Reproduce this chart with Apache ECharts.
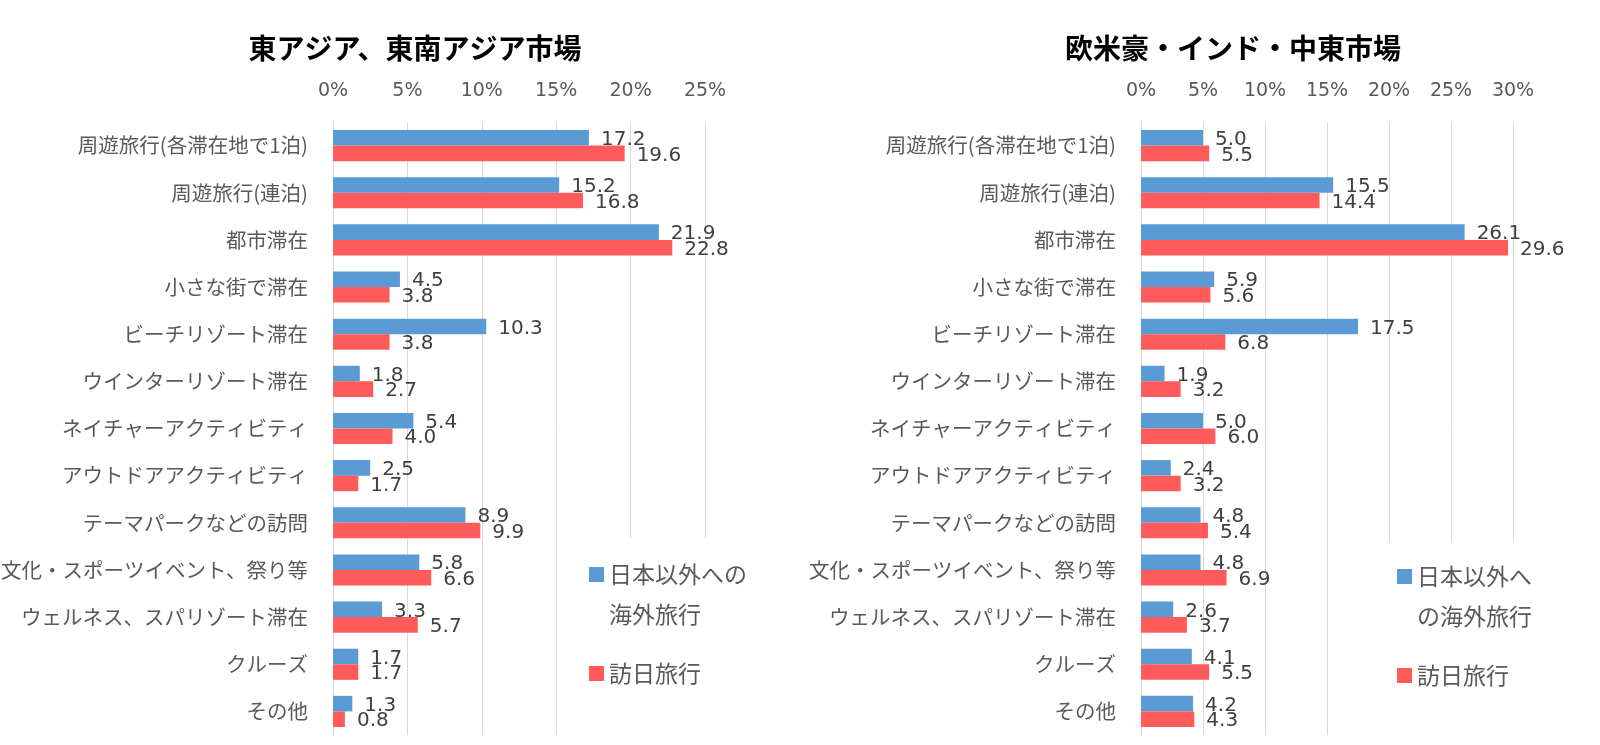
<!DOCTYPE html>
<html>
<head>
<meta charset="utf-8">
<script src="https://cdn.jsdelivr.net/npm/echarts@6/dist/echarts.min.js"></script>
<style>
html,body{margin:0;padding:0;background:#fff;}
#chart{width:1600px;height:745px;}
</style>
</head>
<body>
<div id="chart"></div>
<script>
const categories = ['周遊旅行(各滞在地で1泊)','周遊旅行(連泊)','都市滞在','小さな街で滞在','ビーチリゾート滞在','ウインターリゾート滞在','ネイチャーアクティビティ','アウトドアアクティビティ','テーマパークなどの訪問','文化・スポーツイベント、祭り等','ウェルネス、スパリゾート滞在','クルーズ','その他'];
const seriesNames = ['日本以外への海外旅行','訪日旅行'];
const asiaOutbound = [17.2,15.2,21.9,4.5,10.3,1.8,5.4,2.5,8.9,5.8,3.3,1.7,1.3];
const asiaJapan    = [19.6,16.8,22.8,3.8,3.8,2.7,4.0,1.7,9.9,6.6,5.7,1.7,0.8];
const westOutbound = [5.0,15.5,26.1,5.9,17.5,1.9,5.0,2.4,4.8,4.8,2.6,4.1,4.2];
const westJapan    = [5.5,14.4,29.6,5.6,6.8,3.2,6.0,3.2,5.4,6.9,3.7,5.5,4.3];
const titles = ['東アジア、東南アジア市場','欧米豪・インド・中東市場'];
const xMax = [25, 30];
const legendFirstLines = [['日本以外への','海外旅行'],['日本以外へ','の海外旅行']];

const FONT = '"Noto Sans CJK JP","Noto Sans",sans-serif';
const NUMFONT = '"DejaVu Sans",sans-serif';
const BLUE = '#5B9BD5', RED = '#FF5B5B', TXT = '#595959';

const chart = echarts.init(document.getElementById('chart'));

function xAxis(idx, max){
  return {
    gridIndex: idx, type:'value', position:'top', min:0, max:max, interval:5,
    axisLine:{show:false}, axisTick:{show:false},
    axisLabel:{formatter:'{value}%', fontFamily:NUMFONT, fontSize:19, color:TXT, margin:21},
    splitLine:{show:true, lineStyle:{color:'#D9D9D9', width:1}}
  };
}
function yAxis(idx){
  return {
    gridIndex: idx, type:'category', inverse:true, data:categories,
    axisLine:{show:true, lineStyle:{color:'#D9D9D9'}}, axisTick:{show:false},
    axisLabel:{fontFamily:FONT, fontSize:20.5, color:TXT, margin:25}
  };
}
function bar(name, data, color, idx){
  return {
    name:name, type:'bar', xAxisIndex:idx, yAxisIndex:idx, data:data,
    barGap:'0%', barCategoryGap:'34%',
    itemStyle:{color:color},
    label:{show:true, position:'right', distance:12, offset:[0,2],
      formatter:p=>p.value.toFixed(1), fontFamily:NUMFONT, fontSize:20, color:'#404040'}
  };
}
function legend(left, top, lines){
  return {
    orient:'vertical', left:left, top:top, padding:0, itemGap:36,
    icon:'rect', itemWidth:15, itemHeight:15, z:20,
    data:seriesNames,
    formatter: n => n === seriesNames[0] ? '{s| }\n{a|' + lines[0] + '}\n{a|' + lines[1] + '}' : '{a|' + n + '}',
    textStyle:{fontFamily:FONT, fontSize:23, color:TXT,
      rich:{s:{lineHeight:40, fontSize:23}, a:{lineHeight:40, fontSize:23, fontFamily:FONT, color:TXT}}}
  };
}

chart.setOption({
  animation:false,
  backgroundColor:'#fff',
  textStyle:{fontFamily:FONT},
  title:[
    {text:titles[0], left:410, top:29, textAlign:'center', textStyle:{fontFamily:FONT, fontSize:28, fontWeight:'bold', color:'#000'}},
    {text:titles[1], left:1228, top:29, textAlign:'center', textStyle:{fontFamily:FONT, fontSize:28, fontWeight:'bold', color:'#000'}}
  ],
  grid:[
    {left:333, top:122, width:372, height:613, containLabel:false, outerBoundsMode:'none'},
    {left:1141, top:122, width:372, height:613, containLabel:false, outerBoundsMode:'none'}
  ],
  xAxis:[xAxis(0, xMax[0]), xAxis(1, xMax[1])],
  yAxis:[yAxis(0), yAxis(1)],
  graphic:[
    {type:'rect', left:568, top:538, shape:{width:200, height:207}, style:{fill:'#fff'}, z:10, silent:true},
    {type:'rect', left:1360, top:542, shape:{width:240, height:203}, style:{fill:'#fff'}, z:10, silent:true}
  ],
  legend:[
    legend(589, 523, legendFirstLines[0]),
    legend(1397, 525, legendFirstLines[1])
  ],
  series:[
    bar(seriesNames[0], asiaOutbound, BLUE, 0),
    bar(seriesNames[1], asiaJapan, RED, 0),
    bar(seriesNames[0], westOutbound, BLUE, 1),
    bar(seriesNames[1], westJapan, RED, 1)
  ]
});
</script>
</body>
</html>
